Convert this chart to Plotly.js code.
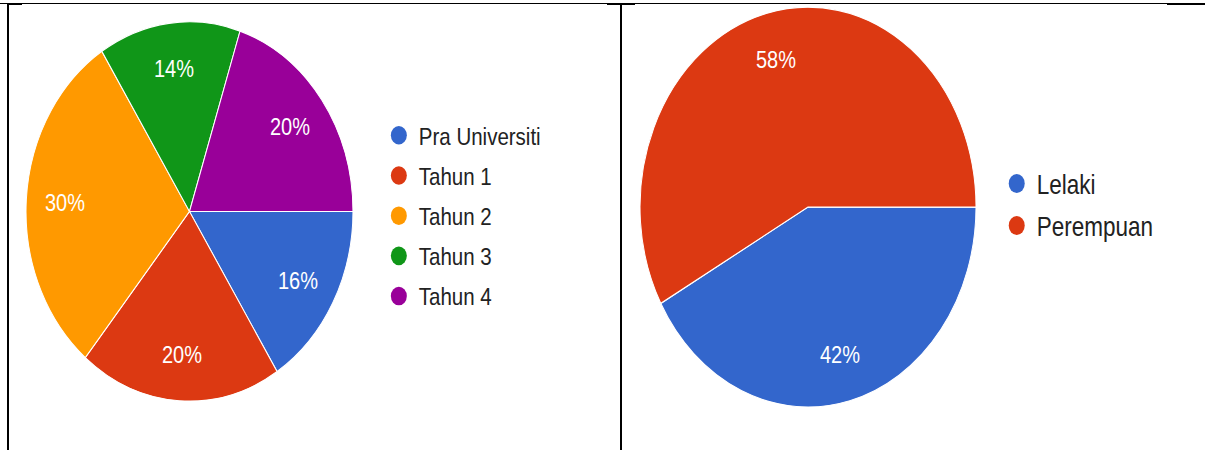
<!DOCTYPE html>
<html>
<head>
<meta charset="utf-8">
<script src="https://cdn.plot.ly/plotly-3.0.1.min.js"></script>
<style>
  html, body { margin: 0; padding: 0; background: #ffffff; }
  body { width: 1205px; height: 450px; position: relative; overflow: hidden; }
  .plot { position: absolute; top: 0; transform-origin: 0 0; }
  #left { left: 0px; width: 615px; height: 388px; transform: scaleY(1.16); }
  #right { left: 615px; width: 590px; height: 378px; transform: scaleY(1.19); }
  .rule { position: absolute; background: #000; z-index: 10; }
</style>
</head>
<body>
<div id="left" class="plot"></div>
<div id="right" class="plot"></div>

<div class="rule" style="left:0; top:3px; width:1205px; height:1px;"></div>
<div class="rule" style="left:7px; top:3px; width:15px; height:2px;"></div>
<div class="rule" style="left:607px; top:3px; width:28px; height:2px;"></div>
<div class="rule" style="left:1167px; top:3px; width:38px; height:2px;"></div>
<div class="rule" style="left:7px; top:3px; width:2px; height:447px;"></div>
<div class="rule" style="left:620px; top:3px; width:2px; height:447px;"></div>

<script>
// ---- data ----
const yearLabels = ["Pra Universiti", "Tahun 1", "Tahun 2", "Tahun 3", "Tahun 4"];
const yearValues = [16, 20, 30, 14, 20];
const yearColors = ["#3366cc", "#dc3912", "#ff9900", "#109618", "#990099"];

const genderLabels = ["Lelaki", "Perempuan"];
const genderValues = [42, 58];
const genderColors = ["#3366cc", "#dc3912"];

const FONT = "Arial, 'Liberation Sans', sans-serif";

function legendTraces(labels, colors) {
  return labels.map((name, i) => ({
    type: "scatter", mode: "markers", x: [null], y: [null], name: name,
    legendgroup: "g" + i,
    marker: { color: colors[i], size: 16, symbol: "circle" },
    hoverinfo: "skip", showlegend: true
  }));
}

// percentage labels placed along each slice's bisector (Google-chart style),
// positions derived from the values; pie starts at 3 o'clock, clockwise.
function percentAnnotations(values, dom, W, H, fsz) {
  const total = values.reduce((a, b) => a + b, 0);
  const x0 = dom.x[0] * W, x1 = dom.x[1] * W;
  const y0 = (1 - dom.y[1]) * H, y1 = (1 - dom.y[0]) * H;
  const cx = (x0 + x1) / 2, cy = (y0 + y1) / 2;
  const R = Math.min(x1 - x0, y1 - y0) / 2;
  const rf = 0.76;
  let cum = 0;
  return values.map(v => {
    const mid = (cum + v / 2) / total * 2 * Math.PI;
    cum += v;
    const px = cx + rf * R * Math.cos(mid);
    const py = cy + rf * R * Math.sin(mid);
    return {
      xref: "paper", yref: "paper", x: px / W, y: 1 - py / H,
      xanchor: "center", yanchor: "middle", showarrow: false,
      text: Math.round(v / total * 100) + "%",
      font: { family: FONT, size: fsz, color: "#ffffff" }
    };
  });
}

function buildFig(labels, values, colors, dom, leg, W, H, fsz, lsz, gap) {
  const pie = {
    type: "pie", labels: labels, values: values, sort: false,
    direction: "clockwise", rotation: 90,
    marker: { colors: colors, line: { color: "#ffffff", width: 1 } },
    textinfo: "none", textposition: "none",
    domain: dom, showlegend: false, hoverinfo: "label+percent"
  };
  const data = [pie].concat(legendTraces(labels, colors));
  const layout = {
    width: W, height: H,
    margin: { l: 0, r: 0, t: 0, b: 0 },
    paper_bgcolor: "rgba(0,0,0,0)", plot_bgcolor: "rgba(0,0,0,0)",
    xaxis: { visible: false, domain: [0.99, 1] },
    yaxis: { visible: false, domain: [0.99, 1] },
    showlegend: true,
    legend: {
      x: leg.x, y: leg.y, xanchor: "left", yanchor: "top",
      font: { family: FONT, size: lsz, color: "#222222" },
      bgcolor: "rgba(0,0,0,0)", traceorder: "grouped", tracegroupgap: gap,
      itemclick: false, itemdoubleclick: false
    },
    annotations: percentAnnotations(values, dom, W, H, fsz)
  };
  return { data, layout };
}

const L = buildFig(yearLabels, yearValues, yearColors,
  { x: [26 / 615, 353 / 615], y: [0.1088, 0.9515] },
  { x: 0.616, y: 0.7505 }, 615, 388, 20, 20.5, 5);
Plotly.newPlot("left", L.data, L.layout, { displayModeBar: false, staticPlot: true });

const R = buildFig(genderLabels, genderValues, genderColors,
  { x: [0.0424, 0.6119], y: [0.0952, 0.9841] },
  { x: 0.647, y: 0.648 }, 590, 378, 20, 22.5, 3);
Plotly.newPlot("right", R.data, R.layout, { displayModeBar: false, staticPlot: true });
</script>
</body>
</html>
